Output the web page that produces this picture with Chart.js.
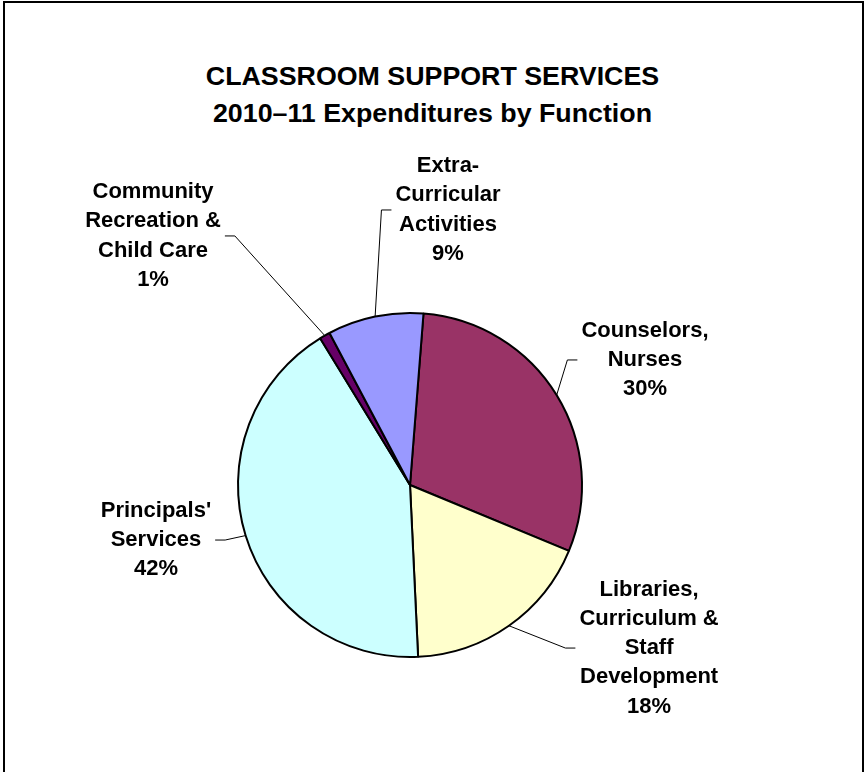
<!DOCTYPE html>
<html>
<head>
<meta charset="utf-8">
<title>Classroom Support Services</title>
<script src="https://cdn.jsdelivr.net/npm/chart.js@4.4.1/dist/chart.umd.min.js"></script>
<style>
    html, body { margin: 0; padding: 0; background: #fff; overflow: hidden; }
    #wrap { position: relative; width: 865px; height: 772px; }
    #frame {
        position: absolute; left: 3px; top: 1px; width: 861px; height: 900px;
        border: 2px solid #000; box-sizing: border-box;
    }
    #title {
        position: absolute; left: 0; top: 58px; width: 865px;
        text-align: center; color: #000;
        font: bold 26px "Liberation Sans", Arial, sans-serif; line-height: 36.5px;
        transform: scaleX(1.03);
    }
    #pie { position: absolute; left: 0; top: 0; }
</style>
</head>
<body>
<div id="wrap">
    <div id="frame"></div>
    <div id="title">CLASSROOM SUPPORT SERVICES<br>2010–11 Expenditures by Function</div>
    <canvas id="pie" width="865" height="772"></canvas>
</div>
<script>
// Expenditure functions (one line per array entry) and their share in percent
const categories = [
    ['Counselors,', 'Nurses'],
    ['Libraries,', 'Curriculum &', 'Staff', 'Development'],
    ["Principals'", 'Services'],
    ['Community', 'Recreation &', 'Child Care'],
    ['Extra-', 'Curricular', 'Activities']
];
const shares = [30, 18, 42, 1, 9];
const sliceColors = ['#993366', '#FFFFCC', '#CCFFFF', '#660066', '#9999FF'];

// Where each callout sits, relative to the pie centre, in pie radii
const labelOffsets = [
    [1.366, -0.727],
    [1.390, 0.948],
    [-1.477, 0.320],
    [-1.494, -1.448],
    [0.221, -1.599]
];
const LABEL_FONT = 'bold 22px "Liberation Sans", Arial, sans-serif';
const LABEL_LINE = 29.3;

// Callout labels with a short stub and a leader line to the slice edge
const calloutLabels = {
    id: 'calloutLabels',
    afterDatasetsDraw(chart) {
        const ctx = chart.ctx;
        const meta = chart.getDatasetMeta(0);
        const total = shares.reduce((a, b) => a + b, 0);
        ctx.save();
        ctx.font = LABEL_FONT;
        ctx.fillStyle = '#000';
        ctx.strokeStyle = '#000';
        ctx.lineWidth = 1;
        ctx.textAlign = 'center';
        ctx.textBaseline = 'middle';
        meta.data.forEach((arc, i) => {
            const { x, y, startAngle, endAngle, outerRadius } =
                arc.getProps(['x', 'y', 'startAngle', 'endAngle', 'outerRadius'], true);
            const mid = (startAngle + endAngle) / 2;
            const px = x + Math.cos(mid) * outerRadius;
            const py = y + Math.sin(mid) * outerRadius;
            const lx = x + labelOffsets[i][0] * outerRadius;
            const ly = y + labelOffsets[i][1] * outerRadius;
            const lines = categories[i].concat(Math.round(shares[i] / total * 100) + '%');
            const half = Math.max(...lines.map(t => ctx.measureText(t).width)) / 2;
            const side = px < lx ? -1 : 1;
            const sx = lx + side * (half + 4);
            const ex = sx + side * 10;
            ctx.beginPath();
            ctx.moveTo(sx, ly);
            ctx.lineTo(ex, ly);
            ctx.lineTo(px, py);
            ctx.stroke();
            lines.forEach((t, k) => {
                ctx.fillText(t, lx, ly + (k - (lines.length - 1) / 2) * LABEL_LINE);
            });
        });
        ctx.restore();
    }
};

new Chart(document.getElementById('pie'), {
    type: 'pie',
    data: {
        labels: categories.map(c => c.join(' ')),
        datasets: [{
            data: shares,
            backgroundColor: sliceColors,
            borderColor: '#000',
            borderWidth: 2
        }]
    },
    options: {
        responsive: false,
        animation: false,
        events: [],
        rotation: 4.5,
        layout: {
            padding: { left: 237, top: 312, right: 282, bottom: 114 }
        },
        plugins: {
            legend: { display: false },
            title: { display: false },
            tooltip: { enabled: false }
        }
    },
    plugins: [calloutLabels]
});
</script>
</body>
</html>
